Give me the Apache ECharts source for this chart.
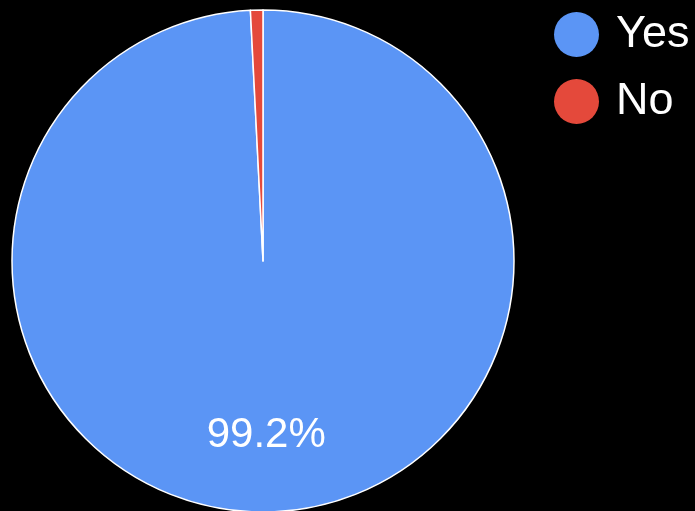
<!DOCTYPE html>
<html>
<head>
<meta charset="utf-8">
<script src="https://cdn.jsdelivr.net/npm/echarts@6/dist/echarts.min.js"></script>
<style>
  html, body { margin: 0; padding: 0; background: #000; }
  #chart { width: 695px; height: 511px; }
</style>
</head>
<body>
<div id="chart"></div>
<script>
// Survey answers (percent of responses)
const categories = ['Yes', 'No'];
const shares = [99.2, 0.8];
const colors = ['#5b95f5', '#e4493b'];

const chart = echarts.init(document.getElementById('chart'), null, { renderer: 'canvas' });

const pieData = categories.map((name, i) => ({
  name: name,
  value: shares[i],
  itemStyle: { color: colors[i] },
  // only the large slice carries a label
  label: { show: shares[i] >= 5 }
}));

chart.setOption({
  backgroundColor: '#000',
  animation: false,
  legend: {
    orient: 'vertical',
    left: 549,
    top: 7,
    padding: 5,
    icon: 'circle',
    itemWidth: 45,
    itemHeight: 45,
    itemGap: 22,
    itemStyle: { borderWidth: 0 },
    textStyle: { color: '#fff', fontSize: 45, fontFamily: 'Arial', padding: [0, 0, 0, 12] },
    data: categories
  },
  series: [{
    type: 'pie',
    center: [263, 261],
    radius: [0, 251],
    startAngle: 90,
    clockwise: true,
    itemStyle: { borderColor: '#fff', borderWidth: 1.5 },
    label: {
      position: 'inside',
      formatter: p => p.value.toFixed(1) + '%',
      color: '#fff',
      fontSize: 42,
      fontFamily: 'Arial',
      offset: [0, 46]
    },
    labelLine: { show: false },
    emphasis: { disabled: true },
    data: pieData
  }]
});
</script>
</body>
</html>
